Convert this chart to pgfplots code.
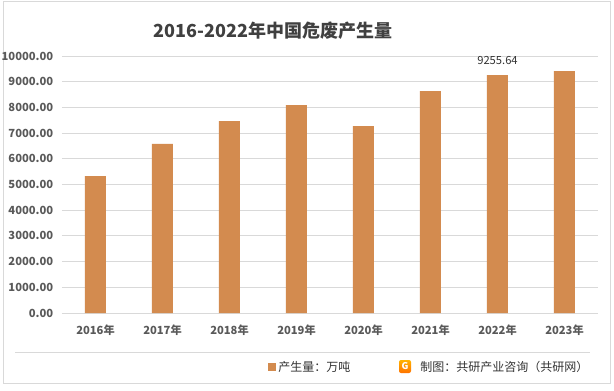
\documentclass[border=0pt]{standalone}
\usepackage{pgfplots}
\pgfplotsset{compat=1.18}
\usepackage{fontspec}
\setmainfont{Noto Sans CJK SC}
\definecolor{barcol}{HTML}{D38B4F}
\definecolor{txt}{HTML}{595959}
\definecolor{gridc}{HTML}{D9D9D9}
\newcommand{\PX}[2]{({#1*0.75pt},{(390-#2)*0.75pt})}
\begin{document}
\begin{tikzpicture}
\path[use as bounding box] (0,0) rectangle (460.5pt,292.5pt);
\draw[gridc, line width=0.75pt] \PX{3}{2} rectangle \PX{610}{383};
\draw[gridc, line width=0.75pt] \PX{15}{352} -- \PX{590}{352};
\node[font=\fontsize{13.5}{16}\selectfont\bfseries, text=black!75] at \PX{273}{31} {2016-2022年中国危废产生量};
\begin{axis}[
  at={(46.5pt,57.75pt)}, anchor=south west,
  scale only axis, width=402pt, height=192.75pt,
  xmin=-0.5, xmax=7.5, ymin=0, ymax=10000,
  ybar, bar width=15.75pt,
  axis x line*=bottom, axis y line*=left,
  x axis line style={gridc, line width=0.75pt, -},
  y axis line style={draw=none},
  ytick={0,1000,...,10000}, scaled y ticks=false,
  ymajorgrids, grid style={gridc, line width=0.75pt},
  xtick={0,...,7}, major tick length=0pt,
  xticklabels={2016年,2017年,2018年,2019年,2020年,2021年,2022年,2023年},
  xticklabel style={font=\fontsize{8.4}{10}\selectfont\bfseries, text=txt, yshift=-5pt},
  yticklabel style={font=\fontsize{8.4}{10}\selectfont\bfseries, text=txt, xshift=-3pt},
  /pgf/number format/.cd, fixed, fixed zerofill, precision=2, 1000 sep={}, assume math mode=true,
  /pgfplots/.cd,
  legend style={at={(0.376,-0.21)}, anchor=west, draw=none, fill=none, font=\fontsize{9}{11}\selectfont, text=black!80},
  legend image code/.code={\fill[barcol] (0pt,-3pt) rectangle (6pt,3pt);},
  clip=false,
]
\addplot[fill=barcol, draw=none] coordinates {(0,5330) (1,6576) (2,7470) (3,8093) (4,7276) (5,8638) (6,9255.64) (7,9416)};
\addlegendentry{产生量：万吨}
\node[font=\fontsize{8.4}{10}\selectfont, text=black!80, anchor=south] at (axis cs:6,9255.64) [yshift=4pt] {9255.64};
\end{axis}
\shade[rounded corners=1.5pt, top color=orange!60!yellow, bottom color=orange!90!red] \PX{399}{360} rectangle \PX{411}{373};
\node[font=\fontsize{7}{8}\selectfont\bfseries, text=white] at \PX{405}{366.5} {G};
\node[anchor=west, font=\fontsize{9}{11}\selectfont, text=black!80, inner sep=0pt] at \PX{420}{367} {制图：共研产业咨询（共研网）};
\end{tikzpicture}
\end{document}
